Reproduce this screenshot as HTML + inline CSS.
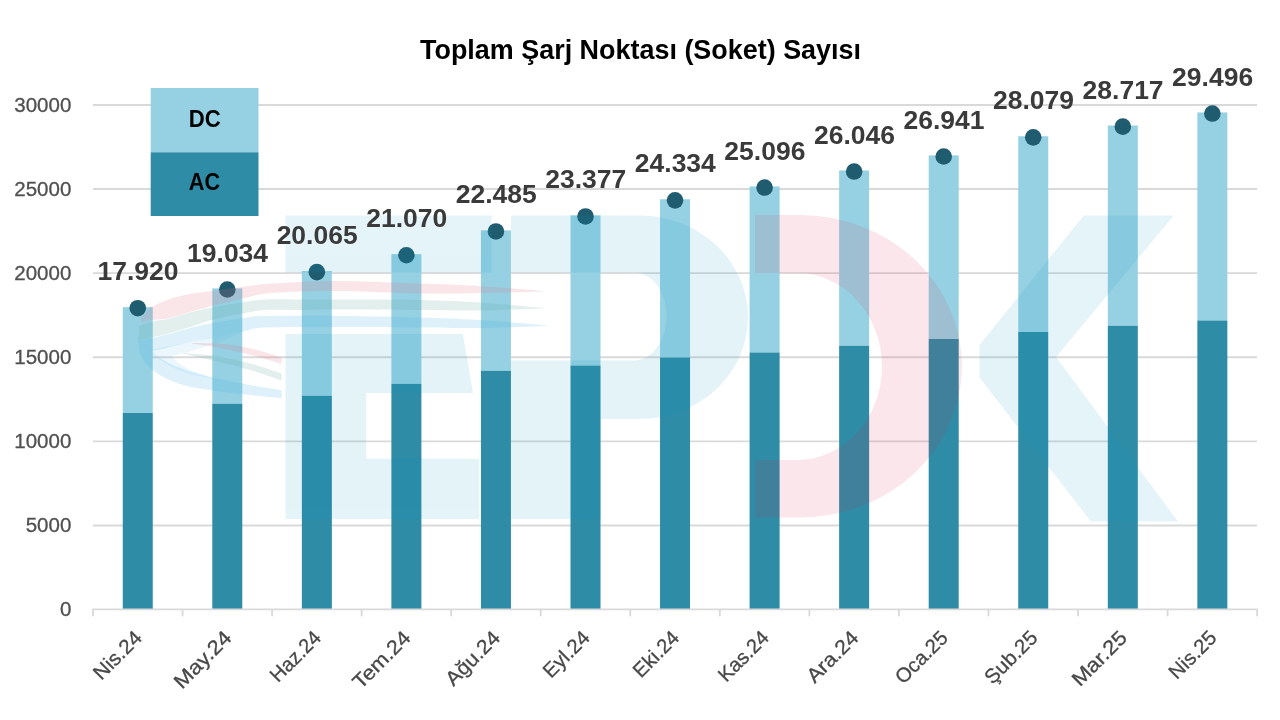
<!DOCTYPE html>
<html lang="tr"><head><meta charset="utf-8"><title>Toplam Şarj Noktası (Soket) Sayısı</title>
<style>
html,body{margin:0;padding:0;background:#fff;}
body{width:1280px;height:720px;overflow:hidden;font-family:"Liberation Sans",sans-serif;}
svg{display:block;will-change:transform;}
text{font-family:"Liberation Sans",sans-serif;}
</style></head><body>
<svg width="1280" height="720" viewBox="0 0 1280 720">
<rect width="1280" height="720" fill="#fff"/>
<text x="640.5" y="59.4" text-anchor="middle" font-size="27.2" font-weight="bold" fill="#000" textLength="441" lengthAdjust="spacingAndGlyphs">Toplam Şarj Noktası (Soket) Sayısı</text>
<g stroke="#D9D9D9" stroke-width="1.9">
<line x1="93" y1="525.45" x2="1257" y2="525.45"/>
<line x1="93" y1="441.35" x2="1257" y2="441.35"/>
<line x1="93" y1="357.25" x2="1257" y2="357.25"/>
<line x1="93" y1="273.15" x2="1257" y2="273.15"/>
<line x1="93" y1="189.05" x2="1257" y2="189.05"/>
<line x1="93" y1="104.95" x2="1257" y2="104.95"/>
</g>
<g font-size="20.5" fill="#505050" stroke="#505050" stroke-width="0.3" text-anchor="end">
<text x="71.3" y="616.45" textLength="11.4" lengthAdjust="spacingAndGlyphs">0</text>
<text x="71.3" y="532.35" textLength="45.6" lengthAdjust="spacingAndGlyphs">5000</text>
<text x="71.3" y="448.25" textLength="57.0" lengthAdjust="spacingAndGlyphs">10000</text>
<text x="71.3" y="364.15" textLength="57.0" lengthAdjust="spacingAndGlyphs">15000</text>
<text x="71.3" y="280.05" textLength="57.0" lengthAdjust="spacingAndGlyphs">20000</text>
<text x="71.3" y="195.95" textLength="57.0" lengthAdjust="spacingAndGlyphs">25000</text>
<text x="71.3" y="111.85" textLength="57.0" lengthAdjust="spacingAndGlyphs">30000</text>
</g>
<g>
<rect x="122.75" y="307.14" width="30.00" height="105.86" fill="#96D1E3"/><rect x="122.75" y="413.00" width="30.00" height="196.55" fill="#2E8CA6"/>
<rect x="212.29" y="288.40" width="30.00" height="115.35" fill="#96D1E3"/><rect x="212.29" y="403.75" width="30.00" height="205.80" fill="#2E8CA6"/>
<rect x="301.85" y="271.06" width="30.00" height="124.69" fill="#96D1E3"/><rect x="301.85" y="395.75" width="30.00" height="213.80" fill="#2E8CA6"/>
<rect x="391.39" y="254.15" width="30.00" height="129.60" fill="#96D1E3"/><rect x="391.39" y="383.75" width="30.00" height="225.80" fill="#2E8CA6"/>
<rect x="480.94" y="230.35" width="30.00" height="140.40" fill="#96D1E3"/><rect x="480.94" y="370.75" width="30.00" height="238.80" fill="#2E8CA6"/>
<rect x="570.50" y="215.35" width="30.00" height="150.15" fill="#96D1E3"/><rect x="570.50" y="365.50" width="30.00" height="244.05" fill="#2E8CA6"/>
<rect x="660.04" y="199.25" width="30.00" height="158.25" fill="#96D1E3"/><rect x="660.04" y="357.50" width="30.00" height="252.05" fill="#2E8CA6"/>
<rect x="749.60" y="186.44" width="30.00" height="166.06" fill="#96D1E3"/><rect x="749.60" y="352.50" width="30.00" height="257.05" fill="#2E8CA6"/>
<rect x="839.14" y="170.46" width="30.00" height="175.29" fill="#96D1E3"/><rect x="839.14" y="345.75" width="30.00" height="263.80" fill="#2E8CA6"/>
<rect x="928.70" y="155.40" width="30.00" height="183.60" fill="#96D1E3"/><rect x="928.70" y="339.00" width="30.00" height="270.55" fill="#2E8CA6"/>
<rect x="1018.24" y="136.26" width="30.00" height="195.74" fill="#96D1E3"/><rect x="1018.24" y="332.00" width="30.00" height="277.55" fill="#2E8CA6"/>
<rect x="1107.80" y="125.53" width="30.00" height="200.22" fill="#96D1E3"/><rect x="1107.80" y="325.75" width="30.00" height="283.80" fill="#2E8CA6"/>
<rect x="1197.35" y="112.43" width="30.00" height="208.07" fill="#96D1E3"/><rect x="1197.35" y="320.50" width="30.00" height="289.05" fill="#2E8CA6"/>
</g>
<g stroke="#D9D9D9" stroke-width="1.8" fill="none">
<line x1="92.3" y1="609.35" x2="1257.8" y2="609.35"/>
<line x1="92.97" y1="609.35" x2="92.97" y2="616.3"/>
<line x1="182.52" y1="609.35" x2="182.52" y2="616.3"/>
<line x1="272.07" y1="609.35" x2="272.07" y2="616.3"/>
<line x1="361.62" y1="609.35" x2="361.62" y2="616.3"/>
<line x1="451.17" y1="609.35" x2="451.17" y2="616.3"/>
<line x1="540.72" y1="609.35" x2="540.72" y2="616.3"/>
<line x1="630.27" y1="609.35" x2="630.27" y2="616.3"/>
<line x1="719.82" y1="609.35" x2="719.82" y2="616.3"/>
<line x1="809.37" y1="609.35" x2="809.37" y2="616.3"/>
<line x1="898.92" y1="609.35" x2="898.92" y2="616.3"/>
<line x1="988.47" y1="609.35" x2="988.47" y2="616.3"/>
<line x1="1078.02" y1="609.35" x2="1078.02" y2="616.3"/>
<line x1="1167.57" y1="609.35" x2="1167.57" y2="616.3"/>
<line x1="1257.12" y1="609.35" x2="1257.12" y2="616.3"/>
</g>
<rect x="150.7" y="88" width="107.8" height="64.3" fill="#96D1E3"/><rect x="150.7" y="152.3" width="107.8" height="63.7" fill="#2E8CA6"/>
<g font-size="24.5" font-weight="bold" fill="#000" text-anchor="middle"><text x="204.7" y="126.6" textLength="32" lengthAdjust="spacingAndGlyphs">DC</text><text x="204.4" y="190.3" textLength="31.3" lengthAdjust="spacingAndGlyphs">AC</text></g>
<g fill="#1F5C70">
<circle cx="137.75" cy="308.24" r="8.3"/>
<circle cx="227.29" cy="289.50" r="8.3"/>
<circle cx="316.85" cy="272.16" r="8.3"/>
<circle cx="406.39" cy="255.25" r="8.3"/>
<circle cx="495.94" cy="231.45" r="8.3"/>
<circle cx="585.50" cy="216.45" r="8.3"/>
<circle cx="675.04" cy="200.35" r="8.3"/>
<circle cx="764.60" cy="187.54" r="8.3"/>
<circle cx="854.14" cy="171.56" r="8.3"/>
<circle cx="943.70" cy="156.50" r="8.3"/>
<circle cx="1033.24" cy="137.36" r="8.3"/>
<circle cx="1122.80" cy="126.63" r="8.3"/>
<circle cx="1212.35" cy="113.53" r="8.3"/>
</g>
<!--WM-->
<g opacity="0.105">
<g fill="#0796C6">
<path d="M285.5 215.5H491.5V272.5H285.5Z"/>
<path d="M285.5 334H462.8L473 393H366.3V458.8H479V519H285.5Z"/>
<path d="M511 215.5H640A108 101.75 0 0 1 640 419H601V519H511V360.4H636A32 44 0 0 0 636 272.5H511Z"/>
<path d="M1083.75 215.5H1173.75L1056 357L1178 521.5H1091L979.5 377.5V345Z"/>
</g>
<path fill="#E2244A" d="M755 215H800A162 151.25 0 0 1 800 517.5H755V460H797A85 93.5 0 0 0 797 273H755Z"/>
</g>
<g opacity="0.17">
<path fill="#3FB0E8" d="M138.0 336.0C138.5 339.3 138.2 350.0 141.0 356.0C143.8 362.0 148.5 367.3 155.0 372.0C161.5 376.7 170.0 380.8 180.0 384.0C190.0 387.2 203.3 389.2 215.0 391.0C226.7 392.8 238.9 393.8 250.0 395.0C261.1 396.2 276.4 397.5 281.7 398.0L281.7 390.0C276.4 389.2 261.1 387.0 250.0 385.0C238.9 383.0 224.2 380.0 215.0 378.0C205.8 376.0 201.7 375.0 195.0 373.0C188.3 371.0 180.8 368.5 175.0 366.0C169.2 363.5 164.2 360.7 160.0 358.0C155.8 355.3 151.7 351.3 150.0 350.0Z"/>
<path fill="#E66A82" d="M141.0 318.0C142.8 316.2 147.2 310.2 152.0 307.0C156.8 303.8 163.7 301.2 170.0 299.0C176.3 296.8 183.0 295.3 190.0 294.0C197.0 292.7 202.8 292.2 212.0 291.0C221.2 289.8 236.0 287.7 245.0 286.5C254.0 285.3 256.8 284.8 266.0 284.0C275.2 283.2 287.7 282.5 300.0 282.0C312.3 281.5 320.0 280.8 340.0 281.0C360.0 281.2 396.7 282.7 420.0 283.5C443.3 284.3 459.5 284.8 480.0 286.0C500.5 287.2 532.5 290.2 543.0 291.0L543.0 291.5C532.5 291.8 500.5 292.7 480.0 293.0C459.5 293.3 443.3 293.8 420.0 293.5C396.7 293.2 360.0 291.3 340.0 291.0C320.0 290.7 312.3 291.1 300.0 291.5C287.7 291.9 275.2 292.4 266.0 293.5C256.8 294.6 254.0 295.9 245.0 298.0C236.0 300.1 221.2 303.7 212.0 306.0C202.8 308.3 197.0 310.0 190.0 312.0C183.0 314.0 176.2 316.7 170.0 318.0C163.8 319.3 157.8 319.3 153.0 320.0C148.2 320.7 143.0 321.7 141.0 322.0Z"/>
<path fill="#5FA59A" d="M139.0 326.0C141.3 325.2 147.8 322.8 153.0 321.5C158.2 320.2 163.8 320.0 170.0 318.5C176.2 317.0 183.0 314.3 190.0 312.5C197.0 310.7 202.8 309.2 212.0 307.5C221.2 305.8 236.0 303.3 245.0 302.0C254.0 300.7 256.8 299.9 266.0 299.5C275.2 299.1 287.7 299.5 300.0 299.5C312.3 299.5 320.0 299.4 340.0 299.5C360.0 299.6 396.7 299.5 420.0 300.0C443.3 300.5 459.2 301.2 480.0 302.5C500.8 303.8 534.2 307.1 545.0 308.0L545.0 308.5C534.2 308.8 500.8 310.2 480.0 310.5C459.2 310.8 443.3 310.2 420.0 310.0C396.7 309.8 360.0 309.5 340.0 309.5C320.0 309.5 312.3 309.9 300.0 310.0C287.7 310.1 275.2 309.5 266.0 310.0C256.8 310.5 254.0 311.3 245.0 313.0C236.0 314.7 221.2 317.7 212.0 320.0C202.8 322.3 197.0 324.8 190.0 327.0C183.0 329.2 176.7 331.2 170.0 333.0C163.3 334.8 155.2 336.8 150.0 338.0C144.8 339.2 140.8 339.7 139.0 340.0Z"/>
<path fill="#3FB0E8" d="M139.0 340.5C140.8 340.2 144.8 339.7 150.0 338.5C155.2 337.3 163.3 335.2 170.0 333.5C176.7 331.8 183.0 329.8 190.0 328.0C197.0 326.2 202.8 324.7 212.0 323.0C221.2 321.3 236.0 319.2 245.0 318.0C254.0 316.8 250.2 316.3 266.0 316.0C281.8 315.7 314.3 315.8 340.0 316.0C365.7 316.2 396.7 316.8 420.0 317.5C443.3 318.2 458.8 318.7 480.0 320.0C501.2 321.3 536.2 324.6 547.5 325.5L547.5 326.0C536.2 326.3 501.2 327.8 480.0 328.0C458.8 328.2 443.3 327.7 420.0 327.5C396.7 327.3 365.7 327.0 340.0 327.0C314.3 327.0 281.8 326.8 266.0 327.5C250.2 328.2 254.0 329.2 245.0 331.0C236.0 332.8 221.2 336.2 212.0 338.0C202.8 339.8 197.0 340.5 190.0 342.0C183.0 343.5 176.3 345.5 170.0 347.0C163.7 348.5 156.8 350.2 152.0 351.0C147.2 351.8 142.8 351.8 141.0 352.0Z"/>
<path fill="#E66A82" d="M192.0 343.0C197.5 343.2 214.5 342.9 225.0 344.0C235.5 345.1 245.6 347.2 255.0 349.5C264.4 351.8 277.2 356.2 281.7 357.5L281.7 364.0C277.2 362.7 264.4 358.5 255.0 356.0C245.6 353.5 235.5 351.1 225.0 349.0C214.5 346.9 197.5 344.4 192.0 343.5Z"/>
<path fill="#5FA59A" d="M183.0 353.0C188.3 353.5 203.8 354.2 215.0 356.0C226.2 357.8 238.9 360.6 250.0 363.5C261.1 366.4 276.4 371.8 281.7 373.5L281.7 380.5C276.4 378.8 261.1 373.2 250.0 370.0C238.9 366.8 226.2 363.8 215.0 361.0C203.8 358.2 188.3 354.8 183.0 353.5Z"/>
</g>
<path opacity="0.1" fill="#3FB0E8" d="M150 350C170 346 200 340 245 331C215 345 190 352 172 356C178 366 195 373 215 378C190 376 165 368 150 350Z"/>
<g font-size="26" font-weight="bold" fill="#3A3A3A" text-anchor="middle">
<text x="138.05" y="280.24" textLength="81" lengthAdjust="spacingAndGlyphs">17.920</text>
<text x="227.59" y="261.50" textLength="81" lengthAdjust="spacingAndGlyphs">19.034</text>
<text x="317.15" y="244.16" textLength="81" lengthAdjust="spacingAndGlyphs">20.065</text>
<text x="406.69" y="227.25" textLength="81" lengthAdjust="spacingAndGlyphs">21.070</text>
<text x="496.24" y="203.45" textLength="81" lengthAdjust="spacingAndGlyphs">22.485</text>
<text x="585.79" y="188.45" textLength="81" lengthAdjust="spacingAndGlyphs">23.377</text>
<text x="675.34" y="172.35" textLength="81" lengthAdjust="spacingAndGlyphs">24.334</text>
<text x="764.89" y="159.54" textLength="81" lengthAdjust="spacingAndGlyphs">25.096</text>
<text x="854.44" y="143.56" textLength="81" lengthAdjust="spacingAndGlyphs">26.046</text>
<text x="944.00" y="128.50" textLength="81" lengthAdjust="spacingAndGlyphs">26.941</text>
<text x="1033.54" y="109.36" textLength="81" lengthAdjust="spacingAndGlyphs">28.079</text>
<text x="1123.10" y="98.63" textLength="81" lengthAdjust="spacingAndGlyphs">28.717</text>
<text x="1212.64" y="85.53" textLength="81" lengthAdjust="spacingAndGlyphs">29.496</text>
</g>
<g font-size="20.2" fill="#484848" stroke="#484848" stroke-width="0.3" text-anchor="end">
<text class="xl" transform="translate(143.25,639.00) rotate(-45)" textLength="59.5" lengthAdjust="spacingAndGlyphs">Nis.24</text>
<text class="xl" transform="translate(232.79,639.00) rotate(-45)" textLength="71.7" lengthAdjust="spacingAndGlyphs">May.24</text>
<text class="xl" transform="translate(322.35,639.00) rotate(-45)" textLength="62.7" lengthAdjust="spacingAndGlyphs">Haz.24</text>
<text class="xl" transform="translate(411.89,639.00) rotate(-45)" textLength="72.2" lengthAdjust="spacingAndGlyphs">Tem.24</text>
<text class="xl" transform="translate(501.44,639.00) rotate(-45)" textLength="67.8" lengthAdjust="spacingAndGlyphs">Ağu.24</text>
<text class="xl" transform="translate(591.00,639.00) rotate(-45)" textLength="56.7" lengthAdjust="spacingAndGlyphs">Eyl.24</text>
<text class="xl" transform="translate(680.54,639.00) rotate(-45)" textLength="56.1" lengthAdjust="spacingAndGlyphs">Eki.24</text>
<text class="xl" transform="translate(770.10,639.00) rotate(-45)" textLength="62.2" lengthAdjust="spacingAndGlyphs">Kas.24</text>
<text class="xl" transform="translate(859.64,639.00) rotate(-45)" textLength="63.6" lengthAdjust="spacingAndGlyphs">Ara.24</text>
<text class="xl" transform="translate(949.20,639.00) rotate(-45)" textLength="65.1" lengthAdjust="spacingAndGlyphs">Oca.25</text>
<text class="xl" transform="translate(1038.74,639.00) rotate(-45)" textLength="65.3" lengthAdjust="spacingAndGlyphs">Şub.25</text>
<text class="xl" transform="translate(1128.30,639.00) rotate(-45)" textLength="68.4" lengthAdjust="spacingAndGlyphs">Mar.25</text>
<text class="xl" transform="translate(1217.85,639.00) rotate(-45)" textLength="58.2" lengthAdjust="spacingAndGlyphs">Nis.25</text>
</g>
</svg>
</body></html>
